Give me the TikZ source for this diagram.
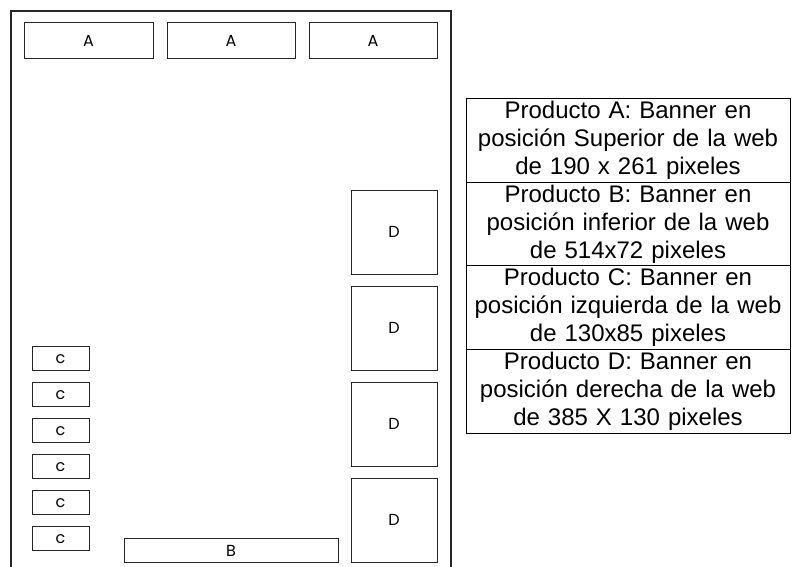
\documentclass[tikz,border=0pt]{standalone}
\usepackage{fontspec}
\setmainfont{Liberation Sans}
\newfontfamily\labelfont{Poppins}
\begin{document}
\begin{tikzpicture}[x=1pt,y=-1pt,
  banner/.style={draw=black!85, line width=1pt, inner sep=0pt, font=\labelfont\fontsize{16}{18}\selectfont},
  cell/.style={draw=black, line width=1pt, inner sep=0pt, minimum width=324, minimum height=83.75,
    text width=320, align=center, font=\fontsize{24}{28}\selectfont}]
\useasboundingbox (0,0) rectangle (792,567);
% page frame
\draw[black!85, line width=1.2pt] (11,570) -- (11,11) -- (451,11) -- (451,570);
% A banners
\node[banner, minimum width=129, minimum height=36] (a1) at (88.5,41) {A};
\node[banner, minimum width=128, minimum height=36] (a2) at (231,41) {A};
\node[banner, minimum width=128, minimum height=36] (a3) at (373,41) {A};
% C banners
\foreach \i/\y in {1/358.7,2/394.7,3/430.7,4/466.7,5/502.7,6/538.7}
  \node[banner, minimum width=57, minimum height=24] (c\i) at (60.5,\y) {c};
% B banner
\node[banner, minimum width=214, minimum height=24] (b) at (231,550.7) {B};
% D banners
\foreach \i/\y in {1/232,2/328,3/424,4/520}
  \node[banner, minimum width=86, minimum height=84] (d\i) at (394,\y) {D};
% legend table
\node[cell] (t1) at (628,140.2) {Producto A: Banner en\\posición Superior de la web\\de 190 x 261 pixeles};
\node[cell] (t2) at (628,223.9) {Producto B: Banner en\\posición inferior de la web\\de 514x72 pixeles};
\node[cell] (t3) at (628,307.7) {Producto C: Banner en\\posición izquierda de la web\\de 130x85 pixeles};
\node[cell] (t4) at (628,391.4) {Producto D: Banner en\\posición derecha de la web\\de 385 X 130 pixeles};
\end{tikzpicture}
\end{document}
